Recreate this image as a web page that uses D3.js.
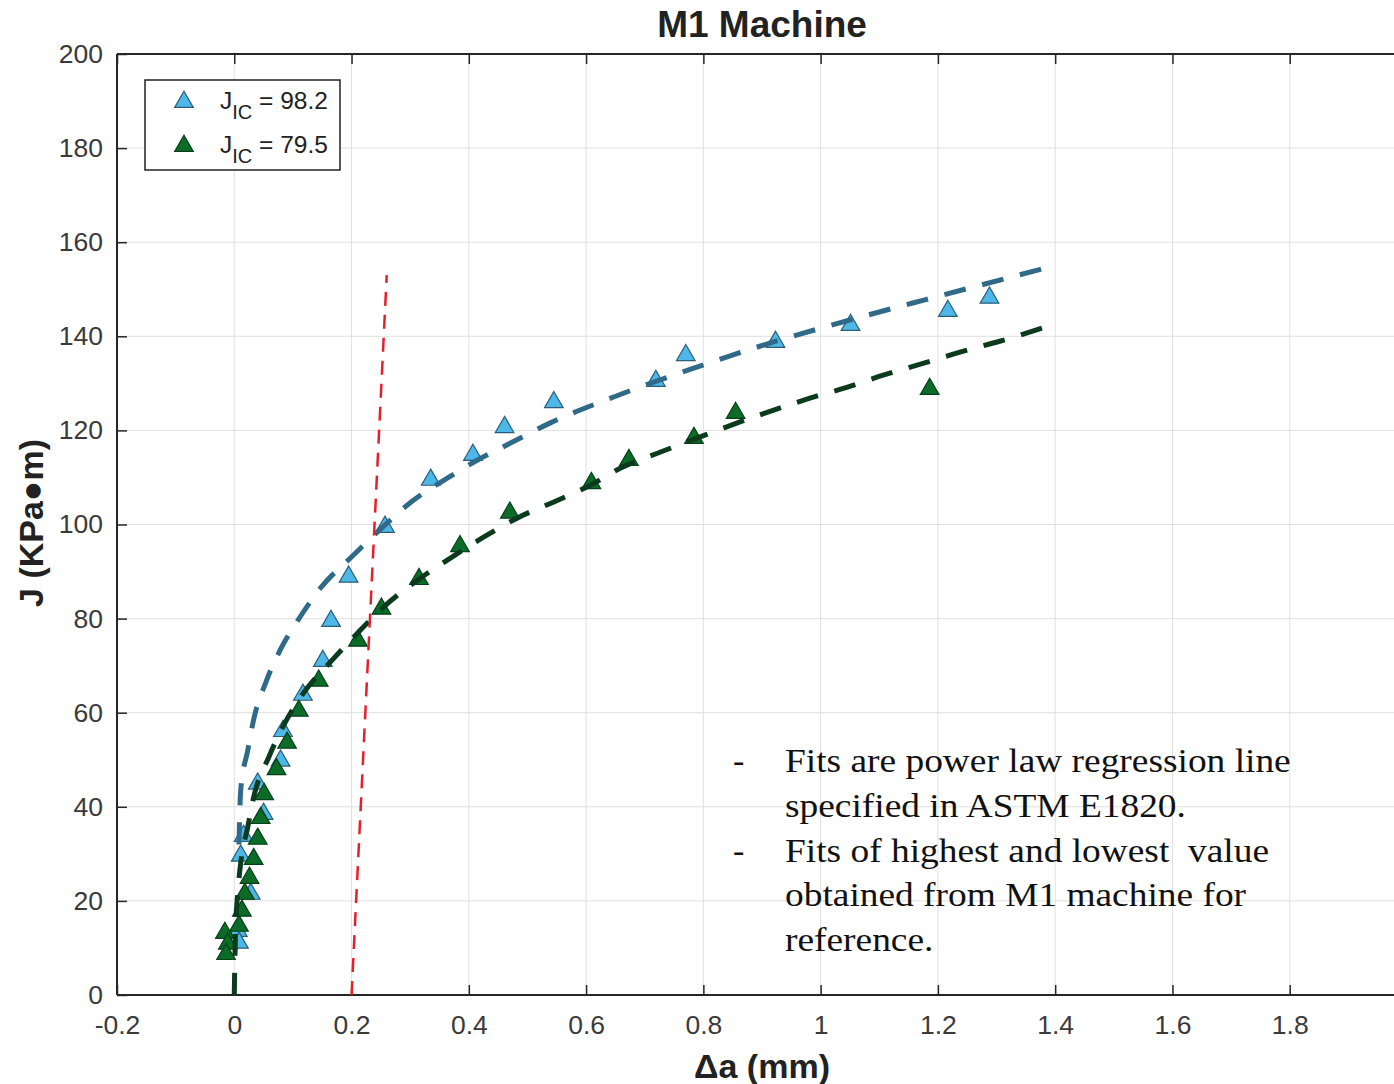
<!DOCTYPE html>
<html>
<head>
<meta charset="utf-8">
<script src="https://cdn.jsdelivr.net/npm/d3@7/dist/d3.min.js"></script>
<style>
  html, body { margin: 0; padding: 0; background: #fff; }
  svg { display: block; }
  text { white-space: pre; }
</style>
</head>
<body>
<svg id="chart" width="1394" height="1084"></svg>
<script>
// ---------- data ----------
const xTicks = [-0.2, 0, 0.2, 0.4, 0.6, 0.8, 1.0, 1.2, 1.4, 1.6, 1.8];
const xTickLabels = ["-0.2", "0", "0.2", "0.4", "0.6", "0.8", "1", "1.2", "1.4", "1.6", "1.8"];
const yTicks = [0, 20, 40, 60, 80, 100, 120, 140, 160, 180, 200];

// high-value specimen (J_IC = 98.2)
const blueDa = [1.288, 1.217, 1.051, 0.923, 0.770, 0.719, 0.545, 0.461, 0.407, 0.335, 0.257, 0.195,
                0.165, 0.151, 0.117, 0.083, 0.079, 0.040, 0.050, 0.016, 0.011, 0.028, 0.006, 0.008];
const blueJ  = [148.4, 145.6, 142.6, 139.0, 136.2, 130.7, 126.2, 120.9, 115.0, 109.7, 99.7, 89.1,
                79.7, 71.2, 64.0, 56.3, 50.0, 45.1, 38.7, 34.0, 29.8, 21.7, 13.8, 11.3];

// low-value specimen (J_IC = 79.5)
const greenDa = [1.186, 0.855, 0.784, 0.673, 0.609, 0.470, 0.385, 0.315, 0.251, 0.211, 0.144, 0.110,
                 0.090, 0.072, 0.051, 0.045, 0.040, 0.033, 0.026, 0.018, 0.013, 0.008, -0.016, -0.011, -0.014];
const greenJ  = [129.0, 123.9, 118.6, 113.9, 109.0, 102.7, 95.6, 88.6, 82.3, 75.5, 67.0, 60.6,
                 53.8, 48.2, 42.9, 37.8, 33.4, 29.1, 25.1, 21.7, 18.1, 14.9, 13.4, 11.1, 8.9];

// power-law fit curves
const blueFitDa = [0.008, 0.011, 0.023, 0.033, 0.054, 0.079, 0.113, 0.147, 0.199, 0.245, 0.306, 0.364,
                   0.415, 0.471, 0.539, 0.647, 0.790, 0.920, 1.051, 1.176, 1.307, 1.395];
const blueFitJ  = [32.0, 43.6, 52.0, 58.5, 66.5, 73.5, 80.5, 86.5, 93.0, 98.5, 105.2, 109.9,
                   113.7, 117.3, 121.6, 127.1, 133.5, 138.8, 143.5, 147.7, 152.0, 154.9];

const greenFitDa = [0.000, 0.002, 0.006, 0.011, 0.023, 0.033, 0.059, 0.085, 0.113, 0.170, 0.210, 0.255,
                    0.313, 0.364, 0.425, 0.483, 0.545, 0.608, 0.659, 0.727, 0.790, 0.858, 0.920, 0.983,
                    1.046, 1.108, 1.176, 1.239, 1.307, 1.384];
const greenFitJ  = [0.0, 13.0, 21.7, 28.1, 35.7, 42.0, 50.6, 57.5, 63.3, 71.6, 76.9, 82.5,
                    88.2, 92.5, 97.3, 101.4, 104.8, 108.4, 112.0, 115.4, 118.4, 121.6, 124.3, 126.9,
                    129.2, 131.8, 134.3, 136.7, 139.0, 142.0];

// 0.2 mm offset (exclusion) line
const offsetDa = [0.200, 0.260];
const offsetJ  = [0.0, 153.0];

const legendLabels = ["98.2", "79.5"];
const titleText = "M1 Machine";
const xLabel = "\u0394a (mm)";
const yLabel = "J (KPa\u25CFm)";
const noteLines = [
  {dash: true,  text: "Fits are power law regression line"},
  {dash: false, text: "specified in ASTM E1820."},
  {dash: true,  text: "Fits of highest and lowest  value"},
  {dash: false, text: "obtained from M1 machine for"},
  {dash: false, text: "reference."}
];

// ---------- drawing ----------
(function () {
const svg = d3.select("#chart");
const pL = 117, pT = 54, pB = 995, pR = 1407;
const x = d3.scaleLinear().domain([-0.2, 2.0]).range([pL, pR]);
const y = d3.scaleLinear().domain([0, 200]).range([pB, pT]);

const axisColor = "#262626";
const sans = "'Liberation Sans', Arial, Helvetica, sans-serif";

// grid
const grid = svg.append("g");
grid.selectAll("line.gx").data(xTicks).enter().append("line")
  .attr("x1", d => x(d)).attr("x2", d => x(d))
  .attr("y1", pT).attr("y2", pB)
  .attr("stroke", "#e0e0e0").attr("stroke-width", 1);
grid.selectAll("line.gy").data(yTicks).enter().append("line")
  .attr("x1", pL).attr("x2", 1394)
  .attr("y1", d => y(d)).attr("y2", d => y(d))
  .attr("stroke", "#e0e0e0").attr("stroke-width", 1);

// axes (MATLAB-style inward ticks)
const xAxisB = d3.axisBottom(x).tickValues(xTicks).tickSize(-10)
  .tickFormat((d, i) => xTickLabels[i]).tickPadding(20);
const gx = svg.append("g").attr("transform", `translate(0,${pB})`).call(xAxisB);
gx.select(".domain").remove();
gx.selectAll(".tick line").attr("stroke", axisColor).attr("stroke-width", 1.5);
gx.selectAll(".tick text").attr("font-family", sans).attr("font-size", 26.5)
  .attr("fill", "#3a3a3a");

const xAxisT = d3.axisTop(x).tickValues(xTicks).tickSize(-10).tickFormat("");
const gxt = svg.append("g").attr("transform", `translate(0,${pT})`).call(xAxisT);
gxt.select(".domain").remove();
gxt.selectAll(".tick line").attr("stroke", axisColor).attr("stroke-width", 1.5);

const yAxis = d3.axisLeft(y).tickValues(yTicks).tickSize(-10).tickPadding(14);
const gy = svg.append("g").attr("transform", `translate(${pL},0)`).call(yAxis);
gy.select(".domain").remove();
gy.selectAll(".tick line").attr("stroke", axisColor).attr("stroke-width", 1.5);
gy.selectAll(".tick text").attr("font-family", sans).attr("font-size", 26.5)
  .attr("fill", "#3a3a3a");

// frame lines
svg.append("line").attr("x1", pL).attr("x2", 1394).attr("y1", pB).attr("y2", pB)
  .attr("stroke", axisColor).attr("stroke-width", 2);
svg.append("line").attr("x1", pL).attr("x2", 1394).attr("y1", pT).attr("y2", pT)
  .attr("stroke", axisColor).attr("stroke-width", 2);
svg.append("line").attr("x1", pL).attr("x2", pL).attr("y1", pT).attr("y2", pB)
  .attr("stroke", axisColor).attr("stroke-width", 2);

// markers
const tri = d3.symbol().type(d3.symbolTriangle).size(150);
const blueFill = "#4db8e8", blueStroke = "#2a5d78";
const greenFill = "#0c6b26", greenStroke = "#06401a";
const blueLine = "#2f6a88", greenLine = "#0b3a1c";

function drawPoints(xs, ys, fill, stroke) {
  svg.append("g").selectAll("path").data(xs.map((d, i) => [d, ys[i]])).enter().append("path")
    .attr("d", tri)
    .attr("transform", d => `translate(${x(d[0])},${y(d[1]) + 1})`)
    .attr("fill", fill).attr("stroke", stroke).attr("stroke-width", 1.2);
}
function drawFit(xs, ys, color) {
  const line = d3.line().x(d => x(d[0])).y(d => y(d[1])).curve(d3.curveMonotoneX);
  svg.append("path").datum(xs.map((d, i) => [d, ys[i]]))
    .attr("d", line).attr("fill", "none")
    .attr("stroke", color).attr("stroke-width", 5)
    .attr("stroke-dasharray", "22,17");
}

drawPoints(blueDa, blueJ, blueFill, blueStroke);
drawFit(blueFitDa, blueFitJ, blueLine);
drawPoints(greenDa, greenJ, greenFill, greenStroke);
drawFit(greenFitDa, greenFitJ, greenLine);

// offset line
svg.append("path").datum(offsetDa.map((d, i) => [d, offsetJ[i]]))
  .attr("d", d3.line().x(d => x(d[0])).y(d => y(d[1])))
  .attr("fill", "none").attr("stroke", "#e3202b").attr("stroke-width", 2.5)
  .attr("stroke-dasharray", "14,9");

// legend
const lg = svg.append("g");
lg.append("rect").attr("x", 145).attr("y", 80).attr("width", 195).attr("height", 90)
  .attr("fill", "#fff").attr("stroke", "#222").attr("stroke-width", 1.5);
const legendItems = [
  {label: legendLabels[0], fill: blueFill, stroke: blueStroke, cy: 102},
  {label: legendLabels[1], fill: greenFill, stroke: greenStroke, cy: 146}
];
legendItems.forEach(it => {
  lg.append("path").attr("d", tri).attr("transform", `translate(184,${it.cy})`)
    .attr("fill", it.fill).attr("stroke", it.stroke).attr("stroke-width", 1.2);
  const t = lg.append("text").attr("x", 220).attr("y", it.cy + 7)
    .attr("font-family", sans).attr("font-size", 24.5).attr("fill", "#222");
  t.append("tspan").text("J");
  t.append("tspan").attr("font-size", 20).attr("dy", 10).text("IC");
  t.append("tspan").attr("dy", -10).text(" = " + it.label);
});

// title & labels
svg.append("text").attr("x", 762).attr("y", 37).attr("text-anchor", "middle")
  .attr("font-family", sans).attr("font-weight", "bold").attr("font-size", 37)
  .attr("fill", "#222").text(titleText);
svg.append("text").attr("x", 762).attr("y", 1078).attr("text-anchor", "middle")
  .attr("font-family", sans).attr("font-weight", "bold").attr("font-size", 34)
  .attr("fill", "#222").text(xLabel);
svg.append("text").attr("transform", "translate(43,523) rotate(-90)").attr("text-anchor", "middle")
  .attr("font-family", sans).attr("font-weight", "bold").attr("font-size", 34)
  .attr("fill", "#222").text(yLabel);

// annotation
const serif = "'Liberation Serif', 'Times New Roman', serif";
noteLines.forEach((ln, i) => {
  const by = 772 + i * 44.8;
  if (ln.dash) {
    svg.append("text").attr("x", 733).attr("y", by).attr("font-family", serif)
      .attr("font-size", 34).attr("fill", "#111").text("-");
  }
  svg.append("text").attr("transform", `translate(785,${by}) scale(1.1,1)`)
    .attr("font-family", serif)
    .attr("font-size", 34).attr("fill", "#111").text(ln.text);
});
})();
</script>
</body>
</html>
